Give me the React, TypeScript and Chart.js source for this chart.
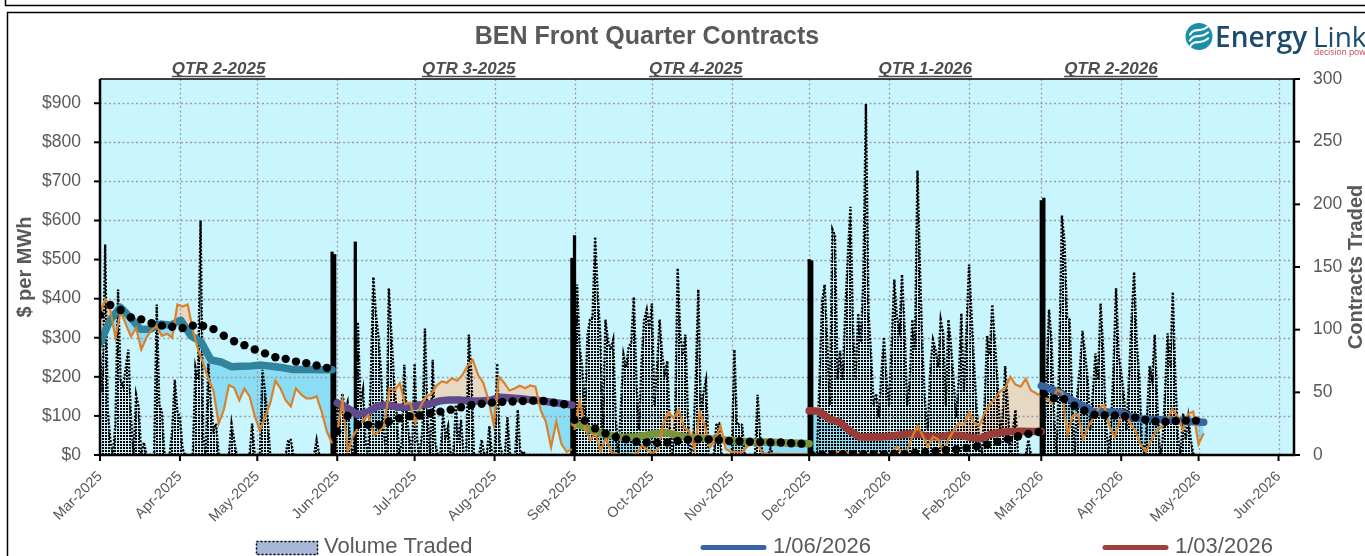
import React, { useEffect, useRef } from 'react';
import { Chart, registerables } from 'chart.js';

Chart.register(...registerables);

const FONT = '"Liberation Sans", Arial, sans-serif';
const TEXT_GREY = '#595959';

// ---------- axes ----------
const MONTH_DAYS = [0, 31, 61, 92, 122, 153, 184, 214, 245, 275, 306, 337, 365, 396, 426, 457];
const MONTH_LABELS = [
  'Mar-2025', 'Apr-2025', 'May-2025', 'Jun-2025', 'Jul-2025', 'Aug-2025', 'Sep-2025', 'Oct-2025',
  'Nov-2025', 'Dec-2025', 'Jan-2026', 'Feb-2026', 'Mar-2026', 'Apr-2026', 'May-2026', 'Jun-2026',
];
const PRICE_TICKS = [0, 100, 200, 300, 400, 500, 600, 700, 800, 900];
const VOLUME_TICKS = [0, 50, 100, 150, 200, 250, 300];
const DAY_MAX = 463;
const PRICE_MAX = 962;
const VOLUME_MAX = 300;

// ---------- quarters ----------
const QUARTER_LABELS = ['QTR 2-2025', 'QTR 3-2025', 'QTR 4-2025', 'QTR 1-2026', 'QTR 2-2026'];
const QUARTER_LABEL_DAYS = [46, 143, 231, 320, 392];
const QUARTER_SPANS = [[0, 90], [92, 183], [184, 275], [275, 365], [365, 428]];
const DOT_SPANS = [[0, 88], [92, 180], [184, 272], [276, 364], [366, 425]];
const QUARTER_COLORS = ['#31849B', '#5F4B8B', '#77933C', '#9B3B38', '#3A64A0'];

// contract price ($/MWh)
const PRICE_Q2_2025 = [286, 345, 378, 352, 322, 322, 335, 332, 345, 305, 290, 243, 238, 226, 227, 228, 230, 227, 224, 219, 219, 219, 218, 218];
const PRICE_Q3_2025 = [133, 120, 103, 110, 126, 128, 122, 122, 128, 130, 138, 141, 141, 138, 138, 140, 148, 146, 144, 141, 139, 135, 132, 128];
const PRICE_Q4_2025 = [81, 72, 60, 53, 48, 45, 47, 50, 55, 57, 50, 46, 44, 42, 40, 38, 35, 34, 33, 33, 32, 31, 30, 29];
const PRICE_Q1_2026 = [113, 112, 92, 84, 62, 46, 47, 46, 48, 51, 55, 52, 47, 47, 51, 50, 45, 43, 53, 58, 60, 61, 60, 60];
const PRICE_Q2_2026 = [177, 168, 158, 140, 127, 112, 110, 110, 108, 95, 92, 91, 90, 89, 87, 85, 84];

// spot price ($/MWh)
const SPOT_Q2_2025 = [363, 397, 370, 300, 367, 335, 303, 325, 270, 300, 320, 330, 305, 310, 300, 385, 380, 385, 320, 270, 235, 195, 165, 80, 115, 179, 172, 140, 170, 150, 100, 62, 98, 132, 190, 170, 140, 124, 170, 155, 145, 145, 150, 110, 60, 30];
const SPOT_Q3_2025 = [60, 140, 10, 47, 70, 90, 102, 50, 60, 75, 170, 166, 184, 130, 134, 82, 125, 150, 155, 177, 188, 185, 196, 190, 205, 228, 243, 205, 185, 141, 77, 200, 185, 165, 170, 177, 171, 178, 175, 115, 85, 20, 85, 28, 8, 15];
const SPOT_Q4_2025 = [64, 140, 70, 38, 55, 10, 45, 8, 3, 0, 0, 2, 4, 25, 12, 5, 13, 80, 110, 95, 115, 70, 60, 15, 110, 75, 20, 40, 75, 15, 8, 8, 6, 20, 30, 34, 4, 3, 3, 3, 2, 2, 2, 2, 2, 2];
const SPOT_Q1_2026 = [0, 0, 0, 0, 2, 5, 10, 8, 4, 3, 2, 2, 2, 2, 2, 2, 3, 22, 4, 12, 47, 75, 50, 21, 47, 40, 8, 40, 62, 81, 78, 110, 82, 75, 107, 128, 145, 162, 172, 200, 180, 175, 195, 165, 158, 150];
const SPOT_Q2_2026 = [155, 145, 132, 167, 160, 50, 100, 105, 40, 72, 98, 120, 128, 75, 45, 90, 107, 80, 60, 25, 8, 38, 64, 72, 90, 118, 100, 64, 105, 111, 28, 56];

// running average ($/MWh), black dots
const AVG_Q2_2025 = [358, 384, 371, 352, 347, 337, 331, 328, 325, 331, 330, 322, 305, 291, 281, 270, 260, 250, 246, 239, 235, 229, 223];
const AVG_Q3_2025 = [60, 100, 77, 77, 77, 85, 94, 99, 101, 107, 111, 116, 122, 128, 131, 134, 136, 137, 138, 139, 138, 134, 130];
const AVG_Q4_2025 = [90, 88, 68, 55, 46, 40, 34, 32, 31, 32, 36, 39, 40, 40, 38, 36, 35, 34, 33, 32, 32, 30, 29];
const AVG_Q1_2026 = [0, 1, 2, 2, 2, 2, 2, 2, 3, 3, 6, 8, 10, 13, 14, 18, 22, 27, 34, 40, 48, 54, 59];
const AVG_Q2_2026 = [156, 145, 143, 126, 114, 103, 102, 101, 99, 96, 90, 86, 85, 87, 88, 88];

// daily volume traded (contracts)
const VOLUME_START_DAYS = [0, 92, 184, 275, 365];
const VOLUME_Q2_2025 = [
  80, 50, 168, 35, 12, 0, 25, 132, 60, 55, 70, 84, 30, 0, 48, 38, 0, 10, 0, 0,
  0, 0, 120, 40, 35, 0, 0, 0, 20, 60, 35, 30, 5, 0, 0, 0, 0, 70, 60, 187,
  15, 0, 73, 40, 20, 25, 0, 0, 0, 0, 0, 25, 12, 0, 0, 0, 0, 0, 0, 25,
  0, 0, 0, 68, 50, 30, 0, 0, 0, 0, 0, 0, 0, 12, 12, 0, 0, 0, 0, 0,
  0, 0, 0, 0, 12, 0, 0, 0, 0, 0, 0, 0,
];
const VOLUME_Q3_2025 = [
  45, 30, 49, 35, 42, 10, 0, 20, 106, 40, 52, 10, 0, 60, 142, 112, 94, 65, 20, 0,
  133, 96, 60, 35, 0, 10, 72, 30, 13, 0, 73, 12, 0, 20, 101, 30, 0, 76, 10, 0,
  0, 33, 15, 23, 0, 0, 40, 10, 28, 0, 0, 96, 65, 0, 0, 0, 12, 0, 0, 23,
  0, 0, 73, 10, 0, 0, 30, 0, 0, 0, 36, 0, 3, 0, 0, 0, 0, 0, 0, 0,
  0, 0, 0, 0, 0, 0, 0, 0, 0, 0, 0, 0,
];
const VOLUME_Q4_2025 = [
  60, 136, 86, 70, 30, 95, 108, 110, 174, 129, 95, 20, 108, 91, 84, 92, 30, 0, 40, 80,
  70, 86, 90, 126, 60, 20, 75, 108, 116, 100, 121, 40, 70, 108, 80, 65, 75, 20, 0, 30,
  149, 96, 80, 96, 30, 0, 10, 60, 132, 35, 50, 60, 0, 0, 0, 24, 25, 0, 0, 0,
  0, 0, 84, 24, 25, 24, 0, 0, 0, 0, 0, 48, 15, 0, 0, 0, 5, 0, 0, 0,
  0, 0, 0, 0, 0, 0, 0, 0, 0, 0, 0,
];
const VOLUME_Q1_2026 = [
  0, 0, 0, 0, 60, 122, 136, 90, 40, 180, 175, 60, 83, 60, 115, 159, 198, 100, 60, 113,
  90, 140, 280, 114, 80, 40, 49, 30, 65, 94, 60, 40, 90, 140, 110, 100, 144, 100, 40, 60,
  108, 84, 227, 145, 80, 40, 20, 70, 92, 84, 70, 108, 97, 40, 108, 87, 60, 30, 60, 113,
  50, 100, 152, 110, 70, 35, 10, 0, 40, 95, 80, 120, 90, 60, 20, 30, 71, 40, 0, 20,
  36, 0, 0, 0, 0, 12, 0, 0, 0, 0,
];
const VOLUME_Q2_2026 = [
  0, 0, 60, 116, 90, 30, 0, 80, 191, 170, 110, 108, 40, 0, 49, 70, 99, 80, 61, 20,
  50, 81, 60, 121, 85, 30, 0, 20, 70, 133, 80, 65, 49, 20, 60, 108, 146, 90, 62, 10,
  0, 30, 71, 60, 96, 40, 0, 10, 50, 97, 70, 130, 60, 15, 0, 33, 12, 30, 12, 0, 0,
];
// quarter roll-over days (heavy volume)
const ROLL_DAYS = [90, 91, 99, 183, 184, 275, 276, 365, 366];
const ROLL_VOLUME = [162, 160, 170, 157, 175, 156, 155, 203, 205];

const LEGEND_LABELS = ['Volume Traded', '1/06/2026', '1/03/2026'];

const PRICES = [PRICE_Q2_2025, PRICE_Q3_2025, PRICE_Q4_2025, PRICE_Q1_2026, PRICE_Q2_2026];
const SPOTS = [SPOT_Q2_2025, SPOT_Q3_2025, SPOT_Q4_2025, SPOT_Q1_2026, SPOT_Q2_2026];
const AVGS = [AVG_Q2_2025, AVG_Q3_2025, AVG_Q4_2025, AVG_Q1_2026, AVG_Q2_2026];
const VOLUMES = [VOLUME_Q2_2025, VOLUME_Q3_2025, VOLUME_Q4_2025, VOLUME_Q1_2026, VOLUME_Q2_2026];

const PLOT_BG = '#C9F5FE';
const FILL_BELOW = '#8ADDF5';
const FILL_ABOVE = '#E6D8C3';
const SPOT_COLOR = '#D9822D';
const LEGEND_BLUE = '#3A64A0';
const LEGEND_RED = '#A0403D';
const VOLUME_INDEX = 15;

function spread(values: number[], span: number[]) {
  const [a, b] = span;
  const n = values.length;
  return values.map((y, i) => ({ x: a + (i * (b - a)) / (n - 1), y }));
}

function makeDecorPlugin(pattern: CanvasPattern | null) {
  return {
    id: 'decor',
    beforeDraw(chart: any) {
      const { ctx, chartArea: a } = chart;
      ctx.save();
      ctx.fillStyle = '#ffffff';
      ctx.fillRect(0, 0, chart.width, chart.height);
      ctx.strokeStyle = '#000';
      ctx.lineWidth = 1.5;
      ctx.beginPath();
      ctx.moveTo(5.5, 0);
      ctx.lineTo(5.5, 5.5);
      ctx.lineTo(chart.width, 5.5);
      ctx.stroke();
      ctx.beginPath();
      ctx.moveTo(7.5, chart.height);
      ctx.lineTo(7.5, 12.5);
      ctx.lineTo(chart.width, 12.5);
      ctx.stroke();
      ctx.fillStyle = PLOT_BG;
      ctx.fillRect(a.left, a.top, a.right - a.left, a.bottom - a.top);
      ctx.restore();
    },
    beforeDatasetsDraw(chart: any) {
      const { ctx, chartArea: a, scales } = chart;
      ctx.save();
      // textured area under the volume series
      const pts = chart.getDatasetMeta(VOLUME_INDEX).data;
      if (pattern && pts.length) {
        const base = scales.y1.getPixelForValue(0);
        ctx.beginPath();
        ctx.rect(a.left, a.top, a.right - a.left, a.bottom - a.top);
        ctx.clip();
        ctx.beginPath();
        ctx.moveTo(pts[0].x, base);
        pts.forEach((p: any) => ctx.lineTo(p.x, p.y));
        ctx.lineTo(pts[pts.length - 1].x, base);
        ctx.closePath();
        ctx.fillStyle = pattern;
        ctx.fill();
      }
      ctx.strokeStyle = '#9E9E9E';
      ctx.lineWidth = 1.3;
      ctx.setLineDash([2, 2.5]);
      MONTH_DAYS.forEach((d) => {
        if (d === 0) return;
        const x = Math.round(scales.x.getPixelForValue(d)) + 0.5;
        ctx.beginPath();
        ctx.moveTo(x, a.top);
        ctx.lineTo(x, a.bottom);
        ctx.stroke();
      });
      PRICE_TICKS.forEach((p) => {
        if (p === 0) return;
        const y = Math.round(scales.y.getPixelForValue(p)) + 0.5;
        ctx.beginPath();
        ctx.moveTo(a.left, y);
        ctx.lineTo(a.right, y);
        ctx.stroke();
      });
      ctx.restore();
    },
    afterDatasetsDraw(chart: any) {
      const { ctx, chartArea: a, scales } = chart;
      ctx.save();
      ctx.strokeStyle = '#000';
      ctx.setLineDash([]);
      ctx.lineWidth = 1.5;
      ctx.beginPath();
      ctx.moveTo(a.left, a.top);
      ctx.lineTo(a.right, a.top);
      ctx.stroke();
      ctx.lineWidth = 2.5;
      ctx.beginPath();
      ctx.moveTo(a.left, a.top);
      ctx.lineTo(a.left, a.bottom);
      ctx.lineTo(a.right, a.bottom);
      ctx.lineTo(a.right, a.top);
      ctx.stroke();
      ctx.lineWidth = 2;
      PRICE_TICKS.forEach((p) => {
        const y = scales.y.getPixelForValue(p);
        ctx.beginPath();
        ctx.moveTo(a.left - 6, y);
        ctx.lineTo(a.left, y);
        ctx.stroke();
      });
      VOLUME_TICKS.forEach((v) => {
        const y = scales.y1.getPixelForValue(v);
        ctx.beginPath();
        ctx.moveTo(a.right, y);
        ctx.lineTo(a.right + 6, y);
        ctx.stroke();
      });
      MONTH_DAYS.forEach((d) => {
        const x = scales.x.getPixelForValue(d);
        ctx.beginPath();
        ctx.moveTo(x, a.bottom);
        ctx.lineTo(x, a.bottom + 6);
        ctx.stroke();
      });
      ctx.restore();
    },
    afterDraw(chart: any) {
      const { ctx, chartArea: a, scales } = chart;
      ctx.save();
      // title
      ctx.fillStyle = TEXT_GREY;
      ctx.font = `bold 25px ${FONT}`;
      ctx.textAlign = 'center';
      ctx.textBaseline = 'alphabetic';
      ctx.fillText('BEN Front Quarter Contracts', 647, 44);
      // quarter labels
      ctx.font = `italic bold 17px ${FONT}`;
      ctx.fillStyle = '#4D4D4D';
      ctx.strokeStyle = '#4D4D4D';
      ctx.lineWidth = 1.3;
      QUARTER_LABELS.forEach((t, i) => {
        const x = scales.x.getPixelForValue(QUARTER_LABEL_DAYS[i]);
        ctx.fillText(t, x, 74);
        const w = ctx.measureText(t).width;
        ctx.beginPath();
        ctx.moveTo(x - w / 2, 76.5);
        ctx.lineTo(x + w / 2, 76.5);
        ctx.stroke();
      });
      // axis titles
      const cy = (a.top + a.bottom) / 2;
      ctx.fillStyle = TEXT_GREY;
      ctx.font = `bold 20px ${FONT}`;
      ctx.textBaseline = 'middle';
      ctx.save();
      ctx.translate(25, cy);
      ctx.rotate(-Math.PI / 2);
      ctx.fillText('$ per MWh', 0, 0);
      ctx.restore();
      ctx.save();
      ctx.translate(1356, cy);
      ctx.rotate(-Math.PI / 2);
      ctx.fillText('Contracts Traded', 0, 0);
      ctx.restore();
      // legend
      ctx.textAlign = 'left';
      ctx.textBaseline = 'alphabetic';
      ctx.font = `22px ${FONT}`;
      ctx.fillStyle = '#A9B8D8';
      ctx.fillRect(256, 541, 62, 14);
      ctx.strokeStyle = '#000';
      ctx.lineWidth = 1.5;
      ctx.setLineDash([2, 2]);
      ctx.strokeRect(256.5, 541.5, 61, 13);
      ctx.setLineDash([]);
      ctx.fillStyle = TEXT_GREY;
      ctx.fillText(LEGEND_LABELS[0], 324, 553);
      ctx.lineCap = 'round';
      ctx.lineWidth = 5;
      ctx.strokeStyle = LEGEND_BLUE;
      ctx.beginPath();
      ctx.moveTo(703, 547.5);
      ctx.lineTo(764, 547.5);
      ctx.stroke();
      ctx.fillText(LEGEND_LABELS[1], 773, 553);
      ctx.strokeStyle = LEGEND_RED;
      ctx.beginPath();
      ctx.moveTo(1105, 547.5);
      ctx.lineTo(1166, 547.5);
      ctx.stroke();
      ctx.fillText(LEGEND_LABELS[2], 1175, 553);
      // logo
      const lx = 1199;
      const ly = 36.5;
      ctx.fillStyle = '#1A8FA8';
      ctx.beginPath();
      ctx.arc(lx, ly, 13.5, 0, Math.PI * 2);
      ctx.fill();
      ctx.save();
      ctx.beginPath();
      ctx.arc(lx, ly, 13.5, 0, Math.PI * 2);
      ctx.clip();
      ctx.strokeStyle = '#ffffff';
      ctx.lineWidth = 2.2;
      ctx.lineCap = 'round';
      [-6, 0, 6].forEach((k) => {
        ctx.beginPath();
        ctx.moveTo(lx - 9, ly + k + 4);
        ctx.bezierCurveTo(lx - 4, ly + k - 4, lx + 1, ly + k + 3, lx + 9, ly + k - 4);
        ctx.stroke();
      });
      ctx.restore();
      ctx.fillStyle = '#1B4C6C';
      ctx.font = `600 28px "Open Sans", ${FONT}`;
      ctx.fillText('Energy', 1215, 47);
      ctx.font = `400 28px "Open Sans", ${FONT}`;
      ctx.fillText('Link', 1313, 47);
      ctx.fillStyle = '#C4475A';
      ctx.font = `8.5px "Open Sans", ${FONT}`;
      ctx.fillText('decision power', 1314, 55);
      ctx.restore();
    },
  };
}

export default function App() {
  const ref = useRef<HTMLCanvasElement | null>(null);

  useEffect(() => {
    if (!ref.current) return;
    const datasets: any[] = [];
    // 0..4 contract price lines
    PRICES.forEach((vals, i) => {
      datasets.push({
        type: 'line',
        data: spread(vals, QUARTER_SPANS[i]),
        yAxisID: 'y',
        borderColor: QUARTER_COLORS[i],
        borderWidth: 7.5,
        borderCapStyle: 'round',
        borderJoinStyle: 'round',
        pointRadius: 0,
        tension: 0,
        fill: false,
        order: 2,
      });
    });
    // 5..9 spot lines filled to their quarter line
    SPOTS.forEach((vals, i) => {
      datasets.push({
        type: 'line',
        data: spread(vals, QUARTER_SPANS[i]),
        yAxisID: 'y',
        borderColor: SPOT_COLOR,
        borderWidth: 2.2,
        pointRadius: 0,
        tension: 0,
        fill: { target: i, above: FILL_ABOVE, below: FILL_BELOW },
        order: 1,
      });
    });
    // 10..14 running averages (dots)
    AVGS.forEach((vals, i) => {
      datasets.push({
        type: 'line',
        data: spread(vals, DOT_SPANS[i]),
        yAxisID: 'y',
        showLine: false,
        pointRadius: 4.2,
        pointBackgroundColor: '#000',
        pointBorderWidth: 0,
        borderColor: '#000',
        fill: false,
        order: 0,
      });
    });
    // 15 volume traded
    const volumeData: { x: number; y: number }[] = [];
    VOLUMES.forEach((vals, i) => {
      vals.forEach((v, k) => volumeData.push({ x: VOLUME_START_DAYS[i] + k, y: v }));
    });
    datasets.push({
      type: 'line',
      data: volumeData,
      yAxisID: 'y1',
      borderColor: '#000',
      borderWidth: 2.4,
      borderDash: [2, 1.6],
      pointRadius: 0,
      tension: 0,
      fill: false,
      order: 4,
    });
    // 16 roll-over volume
    datasets.push({
      type: 'bar',
      data: ROLL_DAYS.map((d, i) => ({ x: d, y: ROLL_VOLUME[i] })),
      yAxisID: 'y1',
      backgroundColor: '#000',
      borderWidth: 0,
      barThickness: 2.6,
      order: 3,
    });

    // dotted texture for the volume area
    const pc = document.createElement('canvas');
    pc.width = 3;
    pc.height = 3;
    const pctx = pc.getContext('2d');
    let pattern: CanvasPattern | null = null;
    if (pctx) {
      pctx.fillStyle = '#000';
      pctx.fillRect(0, 0, 2, 2);
      const mainCtx = ref.current.getContext('2d');
      pattern = mainCtx ? mainCtx.createPattern(pc, 'repeat') : null;
    }

    const chart = new Chart(ref.current, {
      type: 'line',
      data: { datasets },
      options: {
        responsive: false,
        maintainAspectRatio: false,
        animation: false,
        events: [],
        layout: { padding: { top: 79, left: 0, right: 0, bottom: 0 } },
        plugins: {
          legend: { display: false },
          tooltip: { enabled: false },
          filler: { drawTime: 'beforeDatasetsDraw', propagate: false },
        } as any,
        scales: {
          x: {
            type: 'linear',
            min: 0,
            max: DAY_MAX,
            offset: false,
            grid: { display: false, drawTicks: false, offset: false },
            border: { display: false },
            afterBuildTicks: (s: any) => {
              s.ticks = MONTH_DAYS.map((v) => ({ value: v }));
            },
            afterFit: (s: any) => {
              s.height = 101;
            },
            ticks: {
              autoSkip: false,
              maxRotation: 45,
              minRotation: 45,
              padding: 13,
              color: TEXT_GREY,
              font: { family: FONT, size: 14.5 },
              callback: (_v: any, i: number) => MONTH_LABELS[i],
            },
          },
          y: {
            type: 'linear',
            position: 'left',
            min: 0,
            max: PRICE_MAX,
            grid: { display: false, drawTicks: false },
            border: { display: false },
            afterBuildTicks: (s: any) => {
              s.ticks = PRICE_TICKS.map((v) => ({ value: v }));
            },
            afterFit: (s: any) => {
              s.width = 100;
            },
            ticks: {
              padding: 19,
              color: TEXT_GREY,
              font: { family: FONT, size: 17.5 },
              callback: (v: any) => '$' + v,
            },
          },
          y1: {
            type: 'linear',
            position: 'right',
            min: 0,
            max: VOLUME_MAX,
            grid: { display: false, drawTicks: false },
            border: { display: false },
            afterBuildTicks: (s: any) => {
              s.ticks = VOLUME_TICKS.map((v) => ({ value: v }));
            },
            afterFit: (s: any) => {
              s.width = 71;
            },
            ticks: {
              padding: 19,
              color: TEXT_GREY,
              font: { family: FONT, size: 17.5 },
              callback: (v: any) => String(v),
            },
          },
        },
      } as any,
      plugins: [makeDecorPlugin(pattern) as any],
    });
    return () => chart.destroy();
  }, []);

  return (
    <div style={{ position: 'fixed', left: 0, top: 0, width: 1365, height: 556, background: '#fff' }}>
      <canvas ref={ref} width={1365} height={556} style={{ display: 'block' }} />
    </div>
  );
}
